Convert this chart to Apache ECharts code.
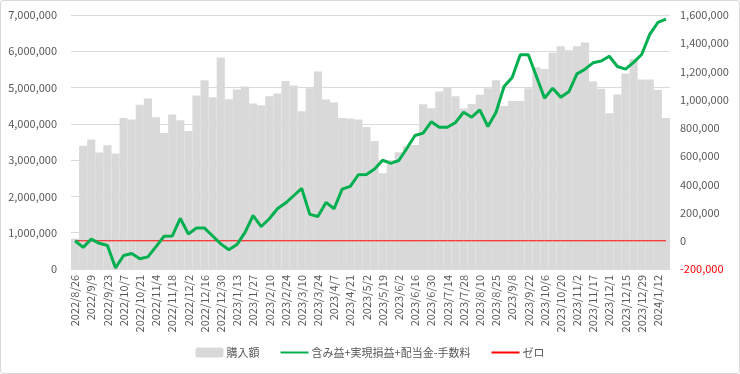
<!DOCTYPE html>
<html>
<head>
<meta charset="utf-8">
<script src="https://cdn.jsdelivr.net/npm/echarts@6/dist/echarts.min.js"></script>
<style>
html,body{margin:0;padding:0;background:#fff;}
#wrap{position:absolute;left:0;top:0;width:738px;height:372px;border:1px solid #d9d9d9;border-radius:3px;}
#c{width:740px;height:374px;position:absolute;left:0;top:0;}
</style>
</head>
<body>
<div id="wrap"></div>
<div id="c"></div>
<script>
const categories = [
"2022/8/26","2022/9/2","2022/9/9","2022/9/16","2022/9/23","2022/9/30","2022/10/7","2022/10/14","2022/10/21","2022/10/28",
"2022/11/4","2022/11/11","2022/11/18","2022/11/25","2022/12/2","2022/12/9","2022/12/16","2022/12/23","2022/12/30","2023/1/6",
"2023/1/13","2023/1/20","2023/1/27","2023/2/3","2023/2/10","2023/2/17","2023/2/24","2023/3/3","2023/3/10","2023/3/17",
"2023/3/24","2023/3/31","2023/4/7","2023/4/14","2023/4/21","2023/4/28","2023/5/2","2023/5/12","2023/5/19","2023/5/26",
"2023/6/2","2023/6/9","2023/6/16","2023/6/23","2023/6/30","2023/7/7","2023/7/14","2023/7/21","2023/7/28","2023/8/4",
"2023/8/10","2023/8/18","2023/8/25","2023/9/1","2023/9/8","2023/9/15","2023/9/22","2023/9/29","2023/10/6","2023/10/13",
"2023/10/20","2023/10/27","2023/11/2","2023/11/10","2023/11/17","2023/11/24","2023/12/1","2023/12/8","2023/12/15","2023/12/22",
"2023/12/29","2024/1/5","2024/1/12","2024/1/19"
];
const purchase = [
840000,3400000,3570000,3210000,3410000,3180000,4160000,4120000,4530000,4700000,
4180000,3750000,4260000,4100000,3800000,4780000,5200000,4730000,5830000,4680000,
4950000,5030000,4560000,4510000,4760000,4840000,5180000,5060000,4350000,4980000,
5440000,4670000,4590000,4160000,4150000,4120000,3910000,3530000,2640000,2880000,
3220000,3380000,3420000,4540000,4430000,4890000,5000000,4760000,4420000,4550000,
4800000,4980000,5200000,4490000,4630000,4630000,4980000,5560000,5510000,5960000,
6140000,6030000,6140000,6240000,5170000,4970000,4290000,4810000,5390000,5790000,
5220000,5220000,4930000,4160000
];
const profit = [
0,-47000,12000,-18000,-33000,-192000,-104000,-90000,-127000,-114000,
-41000,32000,33000,159000,48000,90000,90000,34000,-22000,-64000,
-27000,60000,179000,101000,156000,227000,267000,319000,371000,187000,
172000,272000,227000,366000,385000,468000,470000,508000,571000,548000,
569000,656000,746000,763000,843000,805000,805000,838000,911000,876000,
928000,810000,909000,1093000,1157000,1318000,1318000,1164000,1011000,1081000,
1018000,1056000,1183000,1216000,1261000,1274000,1308000,1235000,1216000,1264000,
1320000,1463000,1547000,1571000
];
const zero = categories.map(() => 0);
const seriesNames = ["購入額","含み益+実現損益+配当金-手数料","ゼロ"];

const chart = echarts.init(document.getElementById('c'));
const fmt = v => v.toLocaleString('en-US');
const font = "'Noto Sans CJK JP', 'Noto Sans', sans-serif";
chart.setOption({
  animation:false,
  textStyle:{fontFamily:font},
  grid:{left:71,right:70,top:15,bottom:105,containLabel:false},
  legend:{
    bottom:11,left:'center',itemGap:20,itemWidth:28,itemHeight:10,
    textStyle:{color:'#595959',fontSize:11,fontFamily:font,padding:[0,0,0,-2]},
    data:[
      {name:seriesNames[0],icon:'roundRect'},
      {name:seriesNames[1],itemStyle:{opacity:0}},
      {name:seriesNames[2],itemStyle:{opacity:0}}
    ]
  },
  xAxis:{
    type:'category',data:categories,
    axisLine:{lineStyle:{color:'#d9d9d9'}},
    axisTick:{interval:0,length:4,lineStyle:{color:'#d9d9d9'}},
    axisLabel:{rotate:90,interval:1,color:'#595959',fontSize:11,margin:6,fontFamily:font}
  },
  yAxis:[
    {type:'value',min:0,max:7000000,interval:1000000,
     axisLabel:{formatter:fmt,color:'#595959',fontSize:11,margin:14,fontFamily:font},
     splitLine:{lineStyle:{color:'#d9d9d9'}},axisLine:{show:false},axisTick:{show:false}},
    {type:'value',min:-200000,max:1600000,interval:200000,
     axisLabel:{formatter:fmt,fontSize:11,margin:10,fontFamily:font,
       color:(v)=> (Number(v)<0?'#ff0000':'#595959')},
     splitLine:{show:false},axisLine:{show:false},axisTick:{show:false}}
  ],
  series:[
    {name:seriesNames[0],type:'bar',data:purchase,barCategoryGap:'0%',
     itemStyle:{color:'#d9d9d9'},yAxisIndex:0},
    {name:seriesNames[1],type:'line',data:profit,yAxisIndex:1,symbol:'none',
     lineStyle:{color:'#00b050',width:3},itemStyle:{color:'#00b050'},z:4},
    {name:seriesNames[2],type:'line',data:zero,yAxisIndex:1,symbol:'none',
     lineStyle:{color:'#ff0000',width:1},itemStyle:{color:'#ff0000'},z:3}
  ]
});
</script>
</body>
</html>
